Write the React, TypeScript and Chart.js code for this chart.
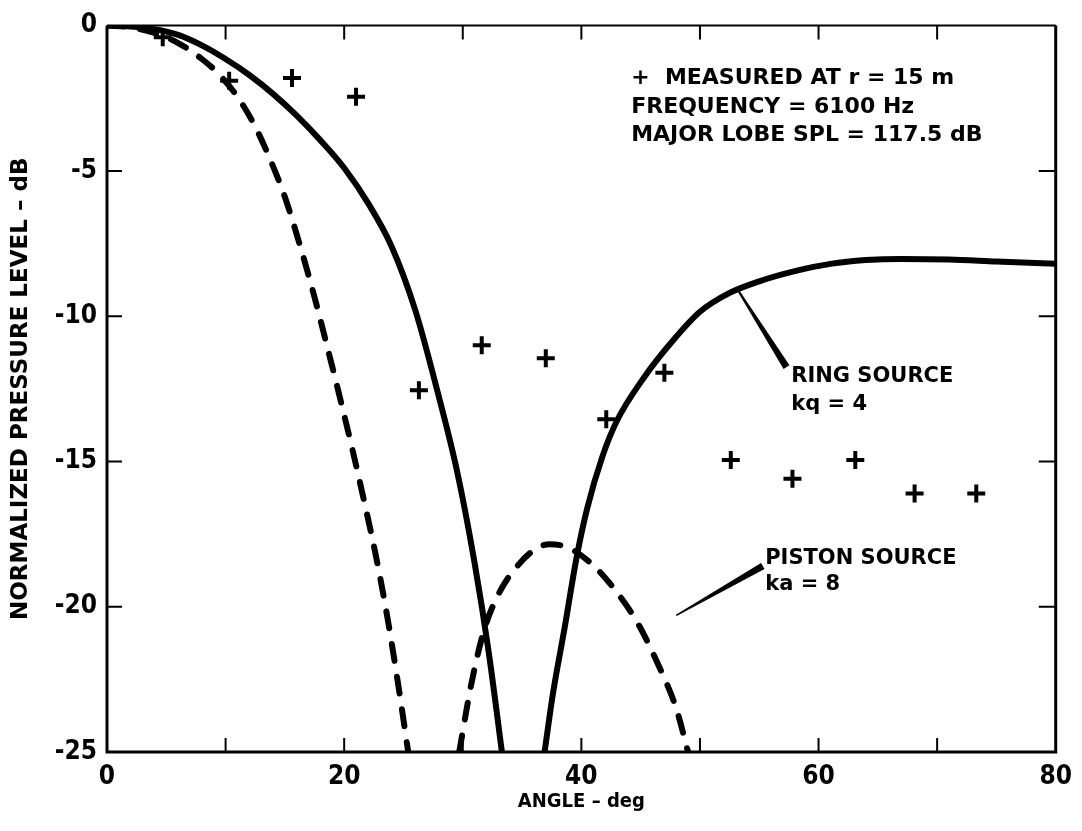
import React, { useEffect, useRef } from "react";
import { Chart, registerables } from "chart.js";

Chart.register(...registerables);

// ---------- data ----------
const xTickValues = [0, 10, 20, 30, 40, 50, 60, 70, 80];
const xTickLabels = ["0", "", "20", "", "40", "", "60", "", "80"];
const yTickLabels = ["0", "-5", "-10", "-15", "-20", "-25"];

const measuredAngle = [4.7, 10.3, 15.6, 21.0, 26.3, 31.6, 37.0, 42.1, 47.0, 52.6, 57.8, 63.1, 68.1, 73.3];
const measuredLevel = [-0.4, -1.9, -1.8, -2.45, -12.55, -11.0, -11.45, -13.55, -11.95, -14.95, -15.6, -14.95, -16.1, -16.1];

const ringMainAngle = [0, 2, 4, 6, 8, 10, 12, 14, 16, 18, 20, 22, 24, 26, 28, 29.5, 31, 32.2, 33.3];
const ringMainLevel = [0, -0.03, -0.12, -0.32, -0.68, -1.15, -1.7, -2.35, -3.1, -3.95, -4.9, -6.1, -7.6, -9.8, -12.8, -15.3, -18.5, -21.6, -25];

const ringSideAngle = [36.9, 37.6, 38.6, 39.6, 40.5, 41.8, 43.0, 45.3, 47.6, 50, 52.5, 55, 58, 61, 64, 67, 71, 75, 80];
const ringSideLevel = [-25, -23, -20.7, -18.3, -16.6, -14.8, -13.6, -12.1, -10.9, -9.85, -9.2, -8.8, -8.45, -8.2, -8.07, -8.03, -8.05, -8.12, -8.2];

const pistonMainAngle = [0, 2, 4, 6, 8, 9.5, 11, 12.4, 13.7, 15.0, 16.3, 17.5, 18.6, 19.7, 20.7, 21.7, 22.7, 23.7, 24.6, 25.4];
const pistonMainLevel = [0, -0.06, -0.25, -0.6, -1.15, -1.7, -2.45, -3.4, -4.55, -5.9, -7.6, -9.35, -11.1, -12.9, -14.6, -16.4, -18.3, -20.5, -22.8, -25];

const pistonSideAngle = [29.7, 30.7, 31.8, 33.1, 34.6, 36.0, 37.3, 38.8, 40.8, 42.8, 44.8, 46.6, 48.0, 49.0];
const pistonSideLevel = [-25, -22.7, -20.8, -19.5, -18.6, -18.05, -17.85, -17.95, -18.5, -19.4, -20.6, -22.1, -23.5, -25];

const noteLines = ["+  MEASURED AT r = 15 m", "FREQUENCY = 6100 Hz", "MAJOR LOBE SPL = 117.5 dB"];
const ringLabel = ["RING SOURCE", "kq = 4"];
const pistonLabel = ["PISTON SOURCE", "ka = 8"];

const xTitle = "ANGLE – deg";
const yTitle = "NORMALIZED PRESSURE LEVEL – dB";

const FONT = "'DejaVu Sans', 'Open Sans', sans-serif";
const FONT_COND = "'DejaVu Sans Condensed', 'DejaVu Sans', sans-serif";

function pts(xs: number[], ys: number[]) {
  return xs.map((x, i) => ({ x, y: ys[i] }));
}

const framePlugin = {
  id: "framePlugin",
  afterDatasetsDraw(chart: any) {
    const { ctx, chartArea } = chart;
    const xs = chart.scales.x;
    const ys = chart.scales.y;
    const { left, right, top, bottom } = chartArea;
    ctx.save();
    ctx.strokeStyle = "#000";
    ctx.lineCap = "butt";
    // frame
    ctx.lineWidth = 3;
    ctx.beginPath();
    ctx.moveTo(left, top);
    ctx.lineTo(left, bottom);
    ctx.lineTo(right, bottom);
    ctx.lineTo(right, top);
    ctx.stroke();
    ctx.lineWidth = 2;
    ctx.beginPath();
    ctx.moveTo(left, top);
    ctx.lineTo(right, top);
    ctx.stroke();
    // x ticks (inward, bottom & top)
    ctx.lineWidth = 2;
    xs.ticks.forEach((t: any) => {
      const px = xs.getPixelForValue(t.value);
      if (t.value === 0 || t.value === 80) return;
      ctx.beginPath();
      ctx.moveTo(px, bottom);
      ctx.lineTo(px, bottom - 14);
      ctx.moveTo(px, top);
      ctx.lineTo(px, top + 14);
      ctx.stroke();
    });
    // y ticks (inward, left & right)
    ys.ticks.forEach((t: any) => {
      if (t.value === 0 || t.value === -25) return;
      const py = ys.getPixelForValue(t.value);
      ctx.beginPath();
      ctx.moveTo(left, py);
      ctx.lineTo(left + 15, py);
      ctx.moveTo(right, py);
      ctx.lineTo(right - 17, py);
      ctx.stroke();
    });

    // tapered pointer
    const pointer = (x1: number, y1: number, x2: number, y2: number, w1: number, w2: number) => {
      const ax = xs.getPixelForValue(x1), ay = ys.getPixelForValue(y1);
      const bx = xs.getPixelForValue(x2), by = ys.getPixelForValue(y2);
      const dx = bx - ax, dy = by - ay;
      const len = Math.hypot(dx, dy);
      const nx = -dy / len, ny = dx / len;
      ctx.fillStyle = "#000";
      ctx.beginPath();
      ctx.moveTo(ax + nx * w1 / 2, ay + ny * w1 / 2);
      ctx.lineTo(bx + nx * w2 / 2, by + ny * w2 / 2);
      ctx.lineTo(bx - nx * w2 / 2, by - ny * w2 / 2);
      ctx.lineTo(ax - nx * w1 / 2, ay - ny * w1 / 2);
      ctx.closePath();
      ctx.fill();
    };
    pointer(53.2, -9.1, 57.3, -11.75, 2, 7);
    pointer(48.0, -20.3, 55.3, -18.6, 1.5, 7);

    // text annotations
    ctx.fillStyle = "#000";
    ctx.textBaseline = "middle";
    ctx.textAlign = "left";
    ctx.font = `bold 22px ${FONT}`;
    const nx0 = xs.getPixelForValue(44.2);
    const noteY = [-1.8, -2.8, -3.76];
    noteLines.forEach((s, i) => ctx.fillText(s, nx0, ys.getPixelForValue(noteY[i])));

    ctx.font = `bold 21px ${FONT}`;
    const rx = xs.getPixelForValue(57.7);
    ctx.fillText(ringLabel[0], rx, ys.getPixelForValue(-12.07));
    ctx.fillText(ringLabel[1], rx, ys.getPixelForValue(-13.03));
    const px0 = xs.getPixelForValue(55.5);
    ctx.fillText(pistonLabel[0], px0, ys.getPixelForValue(-18.33));
    ctx.fillText(pistonLabel[1], px0, ys.getPixelForValue(-19.25));
    ctx.restore();
  },
};

export default function App() {
  const ref = useRef<HTMLCanvasElement | null>(null);
  useEffect(() => {
    document.body.style.margin = "0";
    const canvas = ref.current!;
    const lineStyle = {
      borderColor: "#000",
      borderWidth: 6,
      pointRadius: 0,
      showLine: true,
      fill: false,
      cubicInterpolationMode: "monotone" as const,
    };
    const chart = new Chart(canvas, {
      type: "scatter",
      data: {
        datasets: [
          { label: "Ring main", data: pts(ringMainAngle, ringMainLevel), ...lineStyle },
          { label: "Ring side", data: pts(ringSideAngle, ringSideLevel), ...lineStyle },
          { label: "Piston main", data: pts(pistonMainAngle, pistonMainLevel), ...lineStyle, borderDash: [17, 16], borderCapStyle: "round" },
          { label: "Piston side", data: pts(pistonSideAngle, pistonSideLevel), ...lineStyle, borderDash: [17, 16], borderCapStyle: "round" },
          {
            label: "Measured",
            data: pts(measuredAngle, measuredLevel),
            showLine: false,
            pointStyle: "cross",
            pointRadius: 9,
            pointBorderWidth: 4,
            pointBorderColor: "#000",
            pointBackgroundColor: "#000",
          },
        ] as any,
      },
      options: {
        animation: false,
        responsive: false,
        devicePixelRatio: 1,
        layout: { padding: { top: 22, right: 20, left: 0, bottom: 0 } },
        plugins: { legend: { display: false }, tooltip: { enabled: false } },
        scales: {
          x: {
            type: "linear",
            min: 0,
            max: 80,
            afterBuildTicks: (scale: any) => {
              scale.ticks = xTickValues.map((v) => ({ value: v }));
            },
            afterFit: (scale: any) => {
              scale.height = 831 - 752;
            },
            ticks: {
              autoSkip: false,
              maxRotation: 0,
              padding: 10,
              color: "#000",
              font: { family: FONT_COND, size: 26, weight: "bold" },
              callback: (_v: any, i: number) => xTickLabels[i],
            },
            grid: { display: false, drawTicks: false },
            border: { display: false },
            title: {
              display: true,
              text: xTitle,
              color: "#000",
              font: { family: FONT_COND, size: 20, weight: "bold" },
              padding: { top: 4, bottom: 17 },
            },
          },
          y: {
            type: "linear",
            min: -25,
            max: 0,
            afterBuildTicks: (scale: any) => {
              scale.ticks = yTickLabels.map((s) => ({ value: Number(s) }));
            },
            afterFit: (scale: any) => {
              scale.width = 107;
            },
            ticks: {
              autoSkip: false,
              padding: 10,
              color: "#000",
              font: { family: FONT_COND, size: 26, weight: "bold" },
              callback: (_v: any, i: number) => yTickLabels[i],
            },
            grid: { display: false, drawTicks: false },
            border: { display: false },
            title: {
              display: true,
              text: yTitle,
              color: "#000",
              font: { family: FONT, size: 23, weight: "bold" },
              padding: { top: 7, bottom: 4 },
            },
          },
        },
      },
      plugins: [framePlugin],
    } as any);
    return () => chart.destroy();
  }, []);
  return (
    <div style={{ position: "fixed", left: 0, top: 0, width: 1082, height: 831, background: "#fff" }}>
      <canvas ref={ref} width={1082} height={831} />
    </div>
  );
}
